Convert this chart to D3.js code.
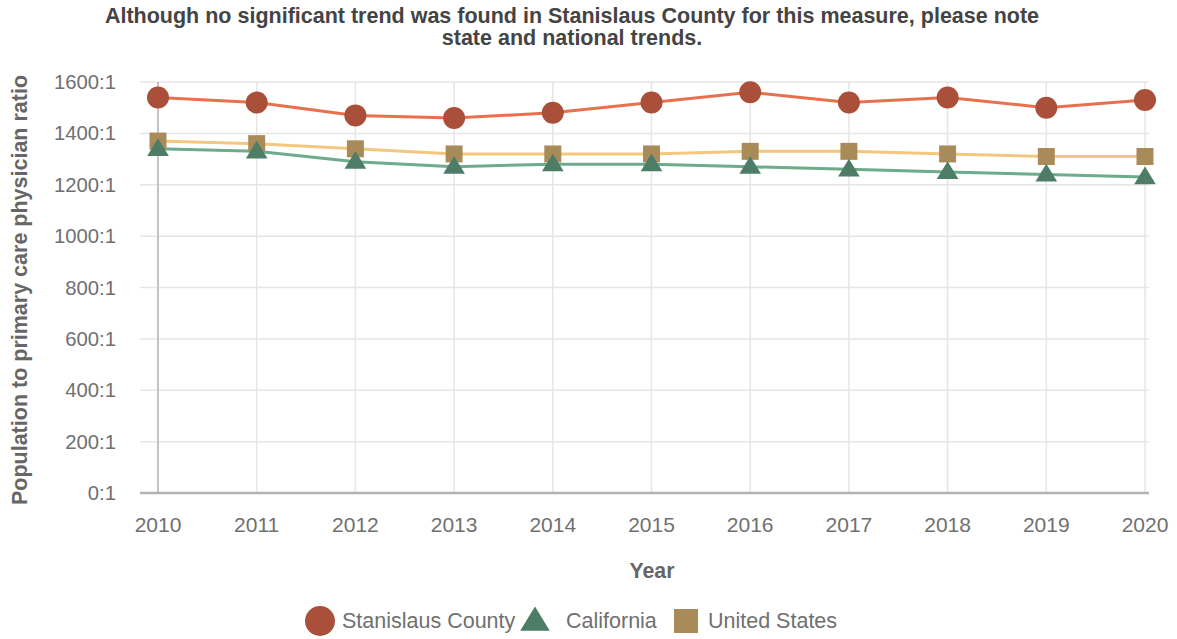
<!DOCTYPE html>
<html>
<head>
<meta charset="utf-8">
<script src="https://cdn.jsdelivr.net/npm/d3@7"></script>
<style>
  html, body { margin: 0; padding: 0; background: #fff; }
  svg text { font-family: "Liberation Sans", Arial, sans-serif; }
</style>
</head>
<body>
<svg id="chart" width="1177" height="639"></svg>
<script>
// Population to primary care physician ratio (value = population per 1 physician)
const years = [2010, 2011, 2012, 2013, 2014, 2015, 2016, 2017, 2018, 2019, 2020];
const stanislaus = [1540, 1520, 1470, 1460, 1480, 1520, 1560, 1520, 1540, 1500, 1530];
const california = [1340, 1330, 1290, 1270, 1280, 1280, 1270, 1260, 1250, 1240, 1230];
const unitedStates = [1370, 1360, 1340, 1320, 1320, 1320, 1330, 1330, 1320, 1310, 1310];
const yTicks = [0, 200, 400, 600, 800, 1000, 1200, 1400, 1600];
const titleLines = [
  "Although no significant trend was found in Stanislaus County for this measure, please note",
  "state and national trends."
];

const seriesList = [
  { name: "Stanislaus County", values: stanislaus, line: "#e8704f", fill: "#a94f3a", shape: "circle" },
  { name: "California", values: california, line: "#6dab8b", fill: "#4d7d67", shape: "triangle" },
  { name: "United States", values: unitedStates, line: "#f4c77f", fill: "#a98b5a", shape: "square" }
];

const svg = d3.select("#chart");
const x = d3.scaleLinear().domain([2010, 2020]).range([158, 1145]);
const y = d3.scaleLinear().domain([0, 1600]).range([493, 82]);
const gridLeft = 140, gridRight = 1149;

// Title
svg.append("g").selectAll("text").data(titleLines).join("text")
  .attr("x", 572).attr("y", (d, i) => 23 + i * 22)
  .attr("text-anchor", "middle")
  .attr("font-size", 21.5).attr("font-weight", "bold").attr("fill", "#444")
  .text(d => d);

// Horizontal grid
svg.append("g").selectAll("line").data(yTicks.filter(t => t > 0)).join("line")
  .attr("x1", gridLeft).attr("x2", gridRight)
  .attr("y1", d => y(d)).attr("y2", d => y(d))
  .attr("stroke", "#e6e6e6").attr("stroke-width", 1.5);

// Vertical grid
svg.append("g").selectAll("line").data(years.slice(1)).join("line")
  .attr("x1", d => x(d)).attr("x2", d => x(d))
  .attr("y1", y(1600)).attr("y2", y(0))
  .attr("stroke", "#e6e6e6").attr("stroke-width", 1.5);

// Y axis line at first category
svg.append("line")
  .attr("x1", x(2010)).attr("x2", x(2010)).attr("y1", y(1600)).attr("y2", y(0))
  .attr("stroke", "#c4c4c4").attr("stroke-width", 2);

// X axis line
svg.append("line")
  .attr("x1", gridLeft).attr("x2", gridRight).attr("y1", y(0)).attr("y2", y(0))
  .attr("stroke", "#b3b3b3").attr("stroke-width", 2.5);

// Y tick labels
svg.append("g").selectAll("text").data(yTicks).join("text")
  .attr("x", 116).attr("y", d => y(d) + 7)
  .attr("text-anchor", "end")
  .attr("font-size", 20.3).attr("fill", "#707070")
  .text(d => d + ":1");

// X tick labels
svg.append("g").selectAll("text").data(years).join("text")
  .attr("x", d => x(d)).attr("y", 532)
  .attr("text-anchor", "middle")
  .attr("font-size", 21).attr("fill", "#707070")
  .text(d => d);

// Axis titles
svg.append("text")
  .attr("x", 652).attr("y", 578).attr("text-anchor", "middle")
  .attr("font-size", 21.3).attr("font-weight", "bold").attr("fill", "#666")
  .text("Year");
svg.append("text")
  .attr("transform", "translate(27,290) rotate(-90)")
  .attr("text-anchor", "middle")
  .attr("font-size", 21.5).attr("font-weight", "bold").attr("fill", "#666")
  .text("Population to primary care physician ratio");

// Marker symbol generators
const symbolPath = (shape, size) => {
  if (shape === "circle") return d3.symbol(d3.symbolCircle, size)();
  if (shape === "square") return d3.symbol(d3.symbolSquare, size)();
  const w = Math.sqrt(size) * 1.25, h = w * 0.82;
  return `M0,${-h * 0.6}L${w / 2},${h * 0.4}L${-w / 2},${h * 0.4}Z`;
};
const markerSize = { circle: Math.PI * 11 * 11, square: 17 * 17, triangle: 300 };

// Lines
const lineGen = d3.line().x((d, i) => x(years[i])).y(d => y(d));
svg.append("g").selectAll("path").data(seriesList).join("path")
  .attr("d", s => lineGen(s.values))
  .attr("fill", "none").attr("stroke", s => s.line).attr("stroke-width", 3);

// Markers
seriesList.slice().reverse().forEach(s => {
  svg.append("g").selectAll("path").data(s.values).join("path")
    .attr("transform", (d, i) => `translate(${x(years[i])},${y(d)})`)
    .attr("d", symbolPath(s.shape, markerSize[s.shape]))
    .attr("fill", s.fill);
});

// Legend
const legendItems = [
  { s: seriesList[0], mx: 320, tx: 342, size: Math.PI * 15 * 15 },
  { s: seriesList[1], mx: 535, tx: 566, size: 560 },
  { s: seriesList[2], mx: 686, tx: 708, size: 24 * 24 }
];
const legend = svg.append("g");
legendItems.forEach(it => {
  legend.append("path")
    .attr("transform", `translate(${it.mx},621)`)
    .attr("d", symbolPath(it.s.shape, it.size))
    .attr("fill", it.s.fill);
  legend.append("text")
    .attr("x", it.tx).attr("y", 628)
    .attr("font-size", 21.5).attr("fill", "#707070")
    .text(it.s.name);
});
</script>
</body>
</html>
